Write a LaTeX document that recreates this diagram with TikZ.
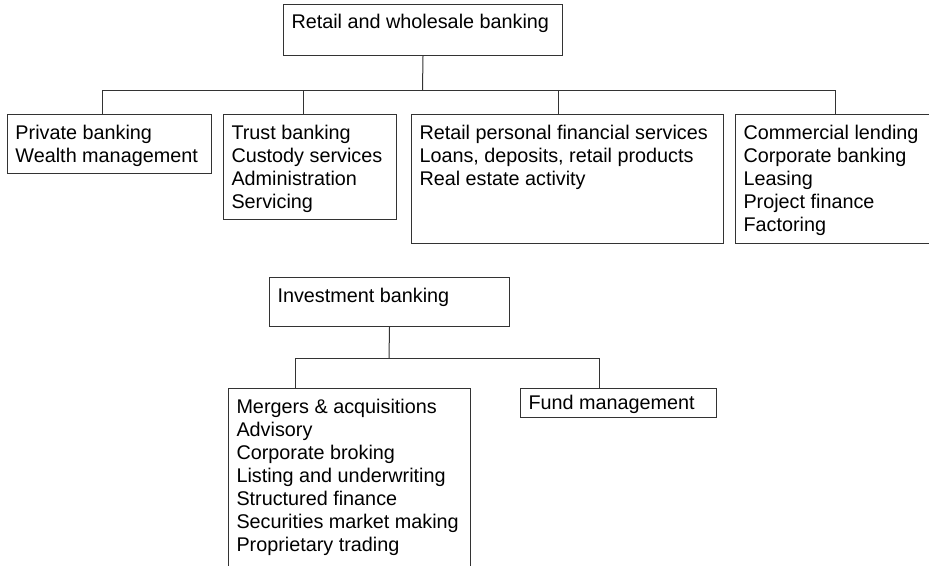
\documentclass[tikz,border=0pt]{standalone}
\usepackage{fontspec}
\setmainfont{Liberation Sans}
\usepackage{tikz}
\newcommand{\unittext}[4]{\parbox[t][#2pt][t]{#1pt}{\raggedright\leftskip=8pt\rule{0pt}{#3pt}#4}}

\begin{document}
\begin{tikzpicture}[x=1pt,y=-1pt,
  unit/.style={draw=black!80,line width=1pt,anchor=north west,inner sep=0pt,font=\fontsize{19.8}{23}\selectfont},
  link/.style={draw=black!80,line width=1pt}]
  \useasboundingbox (0,0) rectangle (929,565);
  \clip (0,0) rectangle (929,565);
  % retail and wholesale
  \node[unit] (rw) at (283,4) {\unittext{279}{51}{24}{Retail and wholesale banking}};
  \node[unit] (pb) at (7,114) {\unittext{204}{59}{25}{Private banking\\Wealth management}};
  \node[unit] (tb) at (223,114) {\unittext{173}{105}{25}{Trust banking\\Custody services\\Administration\\Servicing}};
  \node[unit] (rp) at (411,114) {\unittext{312}{129}{25}{Retail personal financial services\\Loans, deposits, retail products\\Real estate activity}};
  \node[unit] (cl) at (735,114) {\unittext{220}{129}{25}{Commercial lending\\Corporate banking\\Leasing\\Project finance\\Factoring}};
  \coordinate (rwbus) at (422.5,90);
  \draw[link] (rw.south) -- (rwbus);
  \draw[link] ([xshift=-7.5pt]pb.north) |- (rwbus);
  \draw[link] ([xshift=-7pt]tb.north) |- (rwbus);
  \draw[link] ([xshift=-9pt]rp.north) |- (rwbus);
  \draw[link] ([xshift=-10pt]cl.north) |- (rwbus);
  % investment
  \node[unit] (ib) at (269,277) {\unittext{240}{49}{25}{Investment banking}};
  \node[unit] (ma) at (228,388) {\unittext{242}{200}{25}{Mergers \& acquisitions\\Advisory\\Corporate broking\\Listing and underwriting\\Structured finance\\Securities market making\\Proprietary trading}};
  \node[unit] (fm) at (520,388) {\unittext{196}{29}{21}{Fund management}};
  \coordinate (ibbus) at (389,358);
  \draw[link] (ib.south) -- (ibbus);
  \draw[link] ([xshift=-54pt]ma.north) |- (ibbus);
  \draw[link] ([xshift=-19pt]fm.north) |- (ibbus);
\end{tikzpicture}
\end{document}
